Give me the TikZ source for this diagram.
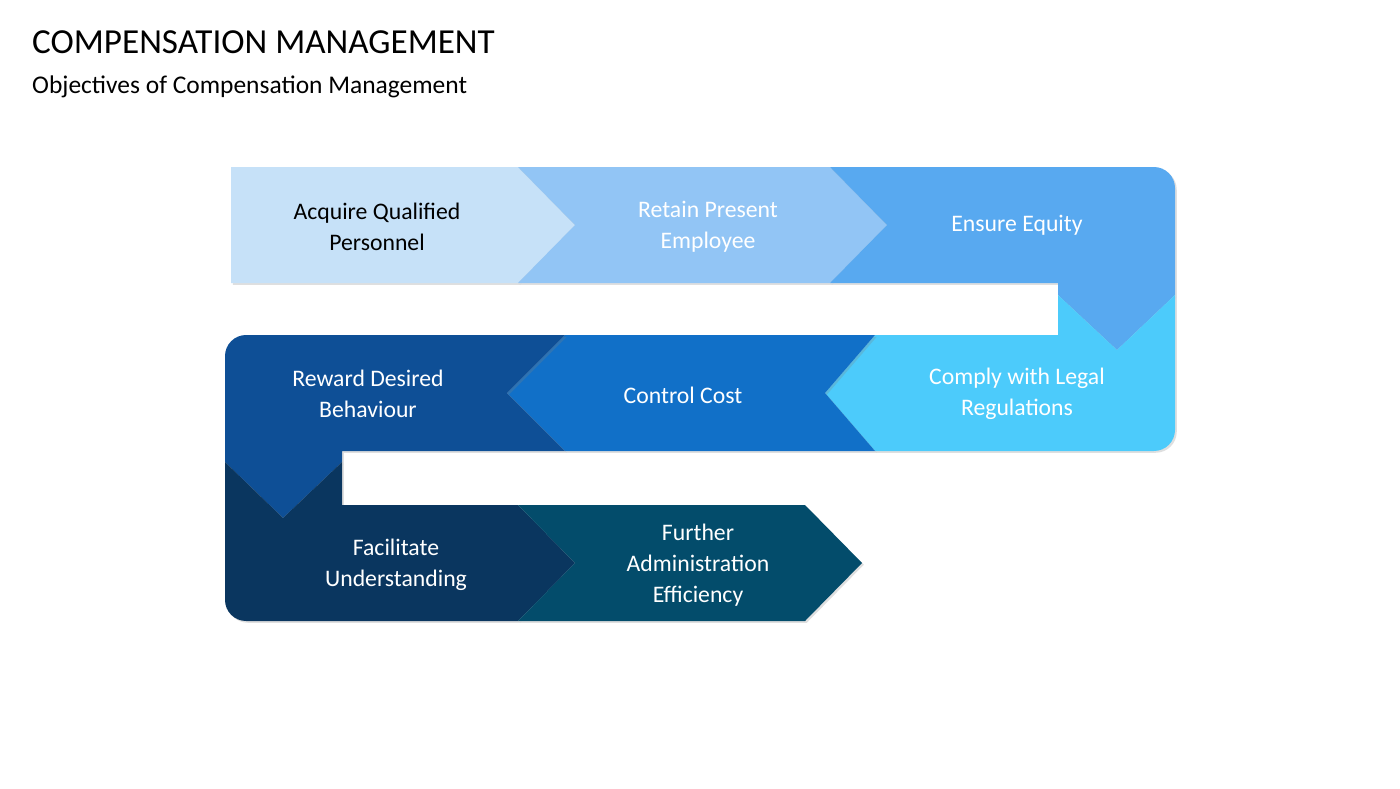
\documentclass[tikz,border=0pt]{standalone}
\usepackage{fontspec}
\setmainfont{Carlito}
\usetikzlibrary{shadows}
\definecolor{stepA}{HTML}{C6E1F8}
\definecolor{stepB}{HTML}{92C5F5}
\definecolor{stepC}{HTML}{58A9F0}
\definecolor{stepD}{HTML}{4CCBFB}
\definecolor{stepE}{HTML}{1170C8}
\definecolor{stepF}{HTML}{0E4F96}
\definecolor{stepG}{HTML}{0A365F}
\definecolor{stepH}{HTML}{034C6B}
\tikzset{
  steptext/.style={align=center,font=\fontsize{13.5}{17.5}\selectfont,text=white},
  band/.style={draw=none,drop shadow={opacity=0.25,shadow xshift=1pt,shadow yshift=-1pt}}
}
\begin{document}
\begin{tikzpicture}[x=0.02cm,y=-0.02cm]
        \useasboundingbox[fill=white] (0,0) rectangle (1400,788);

        % title
        \node[anchor=west,font=\fontsize{20}{24}\selectfont] (title) at (26,42) {COMPENSATION MANAGEMENT};
        \node[anchor=west,font=\fontsize{14.5}{18}\selectfont] (subtitle) at (26,87) {Objectives of Compensation Management};

        % top row
        \fill[stepA,band] (231,167) -- (518,167) -- (575,225) -- (518,283) -- (231,283) -- cycle;
        \fill[stepB,band] (518,167) -- (830,167) -- (887,225) -- (830,283) -- (518,283) -- (575,225) -- cycle;
        \fill[stepC,band] (830,167) [rounded corners=12] -- (1175,167) [sharp corners] -- (1175,295)
            -- (1117,350) -- (1058,295) -- (1058,283) -- (830,283) -- (887,225) -- cycle;

        % middle row
        \fill[stepD,band] (1058,335) -- (1058,295) -- (1117,350) -- (1175,295) [rounded corners=12] -- (1175,451)
            [sharp corners] -- (875,451) -- (825,393) -- (875,335) -- cycle;
        \fill[stepE,band] (875,335) -- (825,393) -- (875,451) -- (565,451) -- (507,393) -- (565,335) -- cycle;
        \fill[stepF,band] (565,335) -- (507,393) -- (565,451) -- (342,451) -- (342,462) -- (283,518)
            -- (225,462) [rounded corners=12] -- (225,335) [sharp corners] -- cycle;

        % bottom row
        \fill[stepG,band] (225,462) -- (283,518) -- (342,462) -- (342,505) -- (518,505) -- (575,563)
            -- (518,621) [rounded corners=12] -- (225,621) [sharp corners] -- cycle;
        \fill[stepH,band] (518,505) -- (805,505) -- (862,563) -- (805,621) -- (518,621) -- (575,563) -- cycle;

        % texts
        \node[steptext,text=black] (acquire) at (377,227) {Acquire Qualified\\Personnel};
        \node[steptext] (retain) at (708,227) {Retain Present\\Employee};
        \node[steptext] (equity) at (1017,225) {Ensure Equity};
        \node[steptext] (comply) at (1017,394) {Comply with Legal\\Regulations};
        \node[steptext] (cost) at (683,395) {Control Cost};
        \node[steptext] (reward) at (368,394) {Reward Desired\\Behaviour};
        \node[steptext] (facilitate) at (396,565) {Facilitate\\Understanding};
        \node[steptext] (further) at (698,565) {Further\\Administration\\Efficiency};
    \end{tikzpicture}
\end{document}
